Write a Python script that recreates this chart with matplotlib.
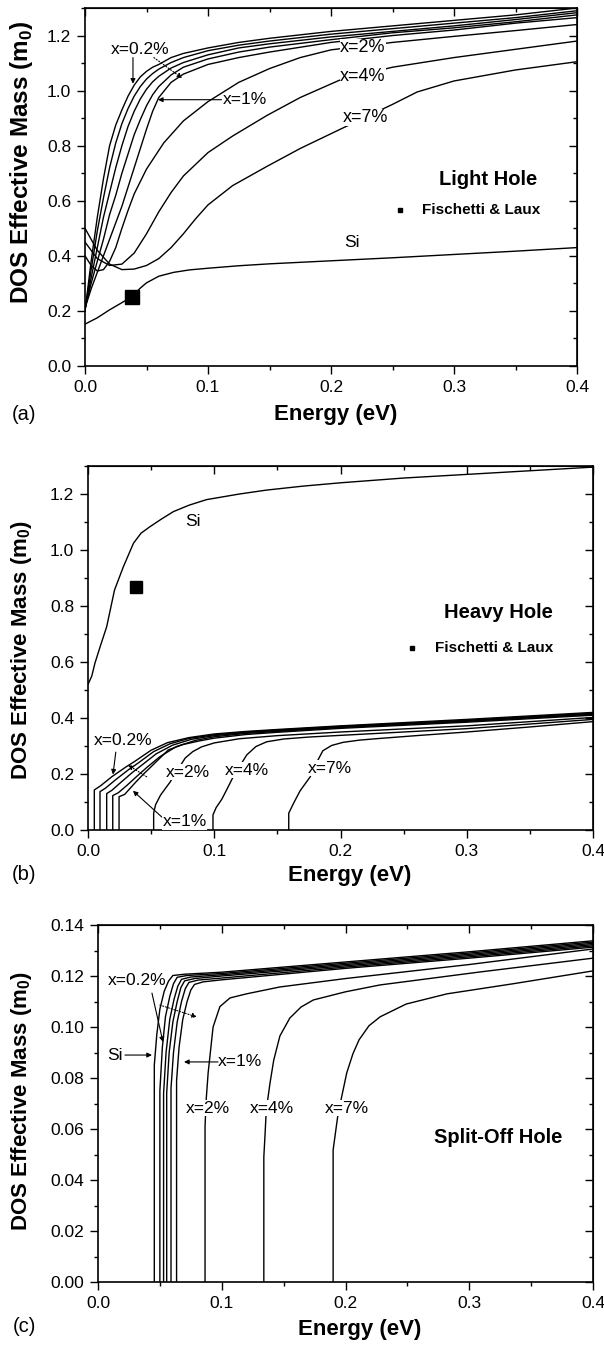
import matplotlib
matplotlib.use("Agg")
import matplotlib.pyplot as plt
from matplotlib.ticker import MultipleLocator, FormatStrFormatter

plt.rcParams['font.family'] = ['Liberation Sans', 'DejaVu Sans']

# ---------------- Panel (a) Light hole ----------------
lh_si_E = [0, 0.01, 0.02, 0.03, 0.038, 0.045, 0.05, 0.06, 0.072, 0.085, 0.1, 0.125, 0.15, 0.2,
           0.25, 0.3, 0.35, 0.4]
lh_si_m = [0.152, 0.175, 0.204, 0.23, 0.252, 0.283, 0.302, 0.326, 0.34, 0.349, 0.355, 0.364,
           0.371, 0.382, 0.393, 0.405, 0.417, 0.43]

lh_grid_E = [0, 0.005, 0.01, 0.015, 0.02, 0.025, 0.03, 0.035, 0.04, 0.045, 0.05, 0.055,
             0.06, 0.07, 0.08, 0.1, 0.125, 0.15, 0.2, 0.25, 0.3, 0.35, 0.4]
lh_x02_m = [0.20, 0.38, 0.54, 0.68, 0.80, 0.875, 0.93, 0.98, 1.02, 1.05, 1.07, 1.085,
            1.095, 1.12, 1.135, 1.155, 1.175, 1.19, 1.215, 1.235, 1.255, 1.275, 1.30]
lh_x04_m = [0.20, 0.35, 0.49, 0.61, 0.72, 0.81, 0.88, 0.935, 0.98, 1.015, 1.042, 1.062,
            1.078, 1.102, 1.12, 1.145, 1.165, 1.18, 1.205, 1.225, 1.245, 1.265, 1.29]
lh_x06_m = [0.205, 0.32, 0.43, 0.54, 0.63, 0.72, 0.80, 0.87, 0.925, 0.97, 1.005, 1.032,
            1.052, 1.082, 1.102, 1.13, 1.155, 1.17, 1.195, 1.215, 1.235, 1.258, 1.283]
lh_x08_m = [0.21, 0.30, 0.38, 0.46, 0.55, 0.62, 0.70, 0.77, 0.84, 0.895, 0.945, 0.985,
            1.015, 1.057, 1.085, 1.115, 1.14, 1.158, 1.185, 1.21, 1.228, 1.25, 1.275]
lh_x1_m = [0.21, 0.28, 0.34, 0.40, 0.46, 0.52, 0.58, 0.65, 0.72, 0.79, 0.86, 0.925,
           0.975, 1.03, 1.06, 1.095, 1.12, 1.14, 1.175, 1.20, 1.22, 1.245, 1.265]

lh_x2_E = [0, 0.005, 0.01, 0.015, 0.02, 0.025, 0.03, 0.035, 0.04, 0.05, 0.064, 0.08, 0.1,
           0.125, 0.15, 0.175, 0.2, 0.25, 0.3, 0.35, 0.4]
lh_x2_m = [0.40, 0.365, 0.345, 0.35, 0.38, 0.43, 0.50, 0.565, 0.625, 0.715, 0.81, 0.89, 0.96,
           1.03, 1.08, 1.12, 1.148, 1.175, 1.197, 1.218, 1.24]
lh_x4_E = [0, 0.01, 0.02, 0.03, 0.04, 0.05, 0.06, 0.07, 0.08, 0.1, 0.12, 0.148, 0.175,
           0.208, 0.25, 0.3, 0.35, 0.4]
lh_x4_m = [0.45, 0.39, 0.365, 0.37, 0.41, 0.48, 0.56, 0.63, 0.69, 0.775, 0.835, 0.91, 0.975,
           1.04, 1.085, 1.12, 1.15, 1.18]
lh_x7_E = [0, 0.01, 0.02, 0.03, 0.04, 0.05, 0.06, 0.07, 0.08, 0.09, 0.1, 0.12, 0.148, 0.175,
           0.21, 0.25, 0.27, 0.3, 0.35, 0.4]
lh_x7_m = [0.50, 0.42, 0.37, 0.35, 0.352, 0.365, 0.39, 0.43, 0.48, 0.535, 0.585, 0.655, 0.725,
           0.79, 0.865, 0.95, 0.995, 1.035, 1.075, 1.105]
lh_fl_E = [0.038]
lh_fl_m = [0.25]

# ---------------- Panel (b) Heavy hole ----------------
hh_si_E = [0, 0.003, 0.0055, 0.01, 0.0148, 0.021, 0.028, 0.036, 0.042, 0.049, 0.058, 0.0676,
           0.08, 0.094, 0.12, 0.1415, 0.17, 0.2, 0.25, 0.3, 0.35, 0.4]
hh_si_m = [0.52, 0.55, 0.596, 0.66, 0.726, 0.857, 0.94, 1.024, 1.06, 1.083, 1.11, 1.137,
           1.16, 1.18, 1.2, 1.214, 1.228, 1.24, 1.257, 1.27, 1.283, 1.296]
hh_x02_E = [0.005, 0.005, 0.01, 0.0188, 0.03, 0.037, 0.05, 0.063, 0.08, 0.1, 0.125, 0.15, 0.2,
            0.3, 0.4]
hh_x02_m = [0, 0.143, 0.158, 0.19, 0.225, 0.245, 0.285, 0.312, 0.33, 0.343, 0.352, 0.359, 0.372,
            0.395, 0.42]
hh_x04_E = [0.0095, 0.0095, 0.014, 0.022, 0.032, 0.04, 0.052, 0.065, 0.08, 0.1, 0.125, 0.15,
            0.2, 0.3, 0.4]
hh_x04_m = [0, 0.137, 0.15, 0.18, 0.215, 0.24, 0.28, 0.308, 0.327, 0.34, 0.35, 0.357, 0.37,
            0.392, 0.417]
hh_x06_E = [0.0148, 0.0148, 0.019, 0.026, 0.035, 0.043, 0.054, 0.067, 0.082, 0.1, 0.125, 0.15,
            0.2, 0.3, 0.4]
hh_x06_m = [0, 0.13, 0.142, 0.17, 0.205, 0.233, 0.272, 0.303, 0.324, 0.337, 0.348, 0.355,
            0.368, 0.39, 0.415]
hh_x08_E = [0.0196, 0.0196, 0.024, 0.031, 0.039, 0.047, 0.057, 0.07, 0.085, 0.1, 0.125, 0.15,
            0.2, 0.3, 0.4]
hh_x08_m = [0, 0.123, 0.133, 0.16, 0.193, 0.225, 0.262, 0.298, 0.32, 0.333, 0.345, 0.352,
            0.366, 0.388, 0.413]
hh_x1_E = [0.0246, 0.0246, 0.029, 0.037, 0.044, 0.05, 0.0636, 0.075, 0.088, 0.1, 0.125, 0.15,
           0.2, 0.3, 0.4]
hh_x1_m = [0, 0.119, 0.127, 0.167, 0.2, 0.226, 0.286, 0.305, 0.318, 0.328, 0.341, 0.349,
           0.363, 0.385, 0.41]
hh_x2_E = [0.052, 0.052, 0.0535, 0.0575, 0.065, 0.071, 0.077, 0.083, 0.09, 0.1, 0.12, 0.15,
           0.2, 0.3, 0.4]
hh_x2_m = [0, 0.06, 0.09, 0.125, 0.171, 0.215, 0.257, 0.28, 0.297, 0.311, 0.326, 0.337, 0.35,
           0.372, 0.402]
hh_x4_E = [0.099, 0.099, 0.1015, 0.106, 0.11, 0.115, 0.1205, 0.1257, 0.133, 0.1415, 0.155,
           0.175, 0.2, 0.25, 0.3, 0.4]
hh_x4_m = [0, 0.054, 0.08, 0.11, 0.145, 0.19, 0.23, 0.268, 0.298, 0.315, 0.325, 0.332, 0.338,
           0.35, 0.362, 0.395]
hh_x7_E = [0.159, 0.159, 0.163, 0.168, 0.176, 0.181, 0.186, 0.193, 0.202, 0.215, 0.231, 0.26,
           0.3, 0.35, 0.4]
hh_x7_m = [0, 0.06, 0.097, 0.14, 0.19, 0.24, 0.283, 0.302, 0.313, 0.321, 0.327, 0.337, 0.35,
           0.368, 0.387]
hh_fl_E = [0.038]
hh_fl_m = [0.868]

# ---------------- Panel (c) Split-off hole ----------------
so_si_E = [0.0455, 0.0455, 0.0475, 0.050, 0.0535, 0.057, 0.0605, 0.07, 0.1, 0.2, 0.3, 0.4]
so_si_m = [0, 0.085, 0.097, 0.107, 0.114, 0.118, 0.1202, 0.1207, 0.1215, 0.1255, 0.1295, 0.1338]
so_x02_E = [0.050, 0.050, 0.052, 0.0545, 0.058, 0.061, 0.064, 0.072, 0.1, 0.2, 0.3, 0.4]
so_x02_m = [0, 0.075, 0.092, 0.104, 0.112, 0.117, 0.1195, 0.1202, 0.121, 0.125, 0.129, 0.1333]
so_x04_E = [0.053, 0.053, 0.055, 0.058, 0.0615, 0.0645, 0.0675, 0.075, 0.1, 0.2, 0.3, 0.4]
so_x04_m = [0, 0.074, 0.09, 0.103, 0.111, 0.116, 0.1187, 0.1196, 0.1205, 0.1245, 0.1285, 0.1328]
so_x06_E = [0.0555, 0.0555, 0.0575, 0.0605, 0.064, 0.067, 0.070, 0.078, 0.1, 0.2, 0.3, 0.4]
so_x06_m = [0, 0.074, 0.09, 0.102, 0.110, 0.1155, 0.1181, 0.119, 0.12, 0.124, 0.128, 0.1323]
so_x08_E = [0.059, 0.059, 0.061, 0.064, 0.0675, 0.0705, 0.0735, 0.081, 0.1, 0.2, 0.3, 0.4]
so_x08_m = [0, 0.076, 0.09, 0.102, 0.110, 0.115, 0.1175, 0.1184, 0.1192, 0.1235, 0.1275, 0.1318]
so_x1_E = [0.0635, 0.0635, 0.0655, 0.0685, 0.072, 0.075, 0.078, 0.085, 0.1, 0.2, 0.3, 0.4]
so_x1_m = [0, 0.079, 0.092, 0.103, 0.110, 0.1145, 0.1167, 0.1177, 0.1185, 0.123, 0.127, 0.1313]
so_x2_E = [0.0865, 0.0865, 0.0875, 0.089, 0.093, 0.0985, 0.1067, 0.12, 0.147, 0.2, 0.3, 0.4]
so_x2_m = [0, 0.061, 0.072, 0.082, 0.1, 0.108, 0.1114, 0.113, 0.1157, 0.119, 0.1245, 0.1306]
so_x4_E = [0.134, 0.134, 0.135, 0.136, 0.139, 0.142, 0.147, 0.155, 0.164, 0.174, 0.2, 0.228,
           0.309, 0.4]
so_x4_m = [0, 0.049, 0.058, 0.0675, 0.078, 0.087, 0.0965, 0.1035, 0.1078, 0.1106, 0.1138,
           0.1165, 0.1216, 0.127]
so_x7_E = [0.19, 0.19, 0.194, 0.201, 0.206, 0.211, 0.219, 0.228, 0.249, 0.282, 0.336, 0.4]
so_x7_m = [0, 0.0518, 0.066, 0.082, 0.0895, 0.095, 0.1005, 0.104, 0.109, 0.113, 0.117, 0.122]

x_ticks = [0.0, 0.1, 0.2, 0.3, 0.4]

W, H = 604, 1348
fig = plt.figure(figsize=(W / 100, H / 100), dpi=100)

LW = 1.0
TICK_FS = 12.5
LAB_FS = 16
NOTE_FS = 12.5
BG = dict(facecolor='white', edgecolor='none', pad=0.3)
YLAB = 'DOS Effective Mass (m$_\\mathregular{0}$)'


def add_ax(l, r, t, b):
    return fig.add_axes([l / W, 1 - b / H, (r - l) / W, (b - t) / H])


def style(ax, ylim, ymaj, ymin, yfmt):
    ax.set_xlim(0, 0.4)
    ax.set_ylim(*ylim)
    ax.set_xticks(x_ticks)
    ax.xaxis.set_major_formatter(FormatStrFormatter('%.1f'))
    ax.xaxis.set_minor_locator(MultipleLocator(0.05))
    ax.yaxis.set_major_locator(MultipleLocator(ymaj))
    ax.yaxis.set_minor_locator(MultipleLocator(ymin))
    ax.yaxis.set_major_formatter(FormatStrFormatter(yfmt))
    ax.tick_params(which='both', direction='out', width=1.0, labelsize=TICK_FS, pad=4)
    ax.tick_params(which='major', length=6)
    ax.tick_params(which='minor', length=3)
    for s in ax.spines.values():
        s.set_linewidth(1.2)
    sx = ax.secondary_xaxis('top')
    sx.set_xticks(x_ticks)
    sx.xaxis.set_minor_locator(MultipleLocator(0.05))
    sx.tick_params(which='both', direction='in', labeltop=False, width=1.0)
    sx.tick_params(which='major', length=6)
    sx.tick_params(which='minor', length=3)
    sy = ax.secondary_yaxis('right')
    sy.yaxis.set_major_locator(MultipleLocator(ymaj))
    sy.yaxis.set_minor_locator(MultipleLocator(ymin))
    sy.tick_params(which='both', direction='in', labelright=False, width=1.0)
    sy.tick_params(which='major', length=6)
    sy.tick_params(which='minor', length=3)


def ftext(px, py, s, **kw):
    fig.text(px / W, 1 - py / H, s, **kw)


def arrow(ax, xy_from, xy_to, ls='-'):
    ax.annotate('', xy=xy_to, xytext=xy_from,
                arrowprops=dict(arrowstyle='-|>', lw=0.8, color='black',
                                mutation_scale=7, shrinkA=0, shrinkB=0, linestyle=ls))


# ---------- (a) ----------
axa = add_ax(85, 577, 8, 366)
for E, m in [(lh_si_E, lh_si_m), (lh_grid_E, lh_x02_m), (lh_grid_E, lh_x04_m),
             (lh_grid_E, lh_x06_m), (lh_grid_E, lh_x08_m), (lh_grid_E, lh_x1_m),
             (lh_x2_E, lh_x2_m), (lh_x4_E, lh_x4_m), (lh_x7_E, lh_x7_m)]:
    axa.plot(E, m, color='black', lw=LW)
axa.plot(lh_fl_E, lh_fl_m, 's', color='black', ms=9.5)
style(axa, (0, 1.3), 0.2, 0.1, '%.1f')
axa.text(0.0447, 1.149, 'x=0.2%', fontsize=NOTE_FS, ha='center', va='center')
arrow(axa, (0.039, 1.12), (0.039, 1.025))
arrow(axa, (0.056, 1.12), (0.079, 1.045), ls=':')
axa.text(0.130, 0.967, 'x=1%', fontsize=NOTE_FS, ha='center', va='center')
arrow(axa, (0.111, 0.967), (0.0593, 0.967))
axa.text(0.226, 1.156, 'x=2%', fontsize=13, ha='center', va='center', bbox=BG, zorder=5)
axa.text(0.226, 1.051, 'x=4%', fontsize=13, ha='center', va='center', bbox=BG, zorder=5)
axa.text(0.228, 0.902, 'x=7%', fontsize=13, ha='center', va='center', bbox=BG, zorder=5)
axa.text(0.217, 0.447, 'Si', fontsize=NOTE_FS, ha='center', va='center')
axa.text(0.328, 0.676, 'Light Hole', fontsize=14.5, fontweight='bold', ha='center', va='center')
axa.plot([0.256], [0.567], 's', color='black', ms=3.5)
axa.text(0.274, 0.567, 'Fischetti & Laux', fontsize=11, fontweight='bold', ha='left', va='center')
ftext(22, 162, YLAB, fontsize=17.5, fontweight='bold', rotation=90, ha='center', va='center')
ftext(336, 415, 'Energy (eV)', fontsize=LAB_FS, fontweight='bold', ha='center', va='center')
ftext(24, 415, '(a)', fontsize=14.5, ha='center', va='center')

# ---------- (b) ----------
axb = add_ax(88, 593, 466, 830)
for E, m in [(hh_si_E, hh_si_m), (hh_x02_E, hh_x02_m), (hh_x04_E, hh_x04_m),
             (hh_x06_E, hh_x06_m), (hh_x08_E, hh_x08_m), (hh_x1_E, hh_x1_m),
             (hh_x2_E, hh_x2_m), (hh_x4_E, hh_x4_m), (hh_x7_E, hh_x7_m)]:
    axb.plot(E, m, color='black', lw=LW)
axb.plot(hh_fl_E, hh_fl_m, 's', color='black', ms=9)
style(axb, (0, 1.3), 0.2, 0.1, '%.1f')
axb.text(0.083, 1.10, 'Si', fontsize=NOTE_FS, ha='center', va='center')
axb.text(0.0277, 0.321, 'x=0.2%', fontsize=NOTE_FS, ha='center', va='center')
arrow(axb, (0.022, 0.278), (0.0198, 0.198))
axb.text(0.0768, 0.029, 'x=1%', fontsize=NOTE_FS, ha='center', va='center', bbox=BG, zorder=5)
arrow(axb, (0.061, 0.036), (0.0356, 0.14))
arrow(axb, (0.0465, 0.19), (0.0317, 0.232), ls=':')
axb.text(0.079, 0.207, 'x=2%', fontsize=NOTE_FS, ha='center', va='center', bbox=BG, zorder=5)
axb.text(0.126, 0.214, 'x=4%', fontsize=NOTE_FS, ha='center', va='center', bbox=BG, zorder=5)
axb.text(0.1917, 0.221, 'x=7%', fontsize=NOTE_FS, ha='center', va='center', bbox=BG, zorder=5)
axb.text(0.325, 0.775, 'Heavy Hole', fontsize=14.5, fontweight='bold', ha='center', va='center')
axb.plot([0.257], [0.65], 's', color='black', ms=3.5)
axb.text(0.275, 0.65, 'Fischetti & Laux', fontsize=11, fontweight='bold', ha='left', va='center')
ftext(22, 650, YLAB, fontsize=LAB_FS, fontweight='bold', rotation=90, ha='center', va='center')
ftext(350, 875, 'Energy (eV)', fontsize=LAB_FS, fontweight='bold', ha='center', va='center')
ftext(24, 875, '(b)', fontsize=14.5, ha='center', va='center')

# ---------- (c) ----------
axc = add_ax(98, 593, 925, 1282)
for E, m in [(so_si_E, so_si_m), (so_x02_E, so_x02_m), (so_x04_E, so_x04_m),
             (so_x06_E, so_x06_m), (so_x08_E, so_x08_m), (so_x1_E, so_x1_m),
             (so_x2_E, so_x2_m), (so_x4_E, so_x4_m), (so_x7_E, so_x7_m)]:
    axc.plot(E, m, color='black', lw=LW)
style(axc, (0, 0.14), 0.02, 0.01, '%.2f')
axc.text(0.0315, 0.1184, 'x=0.2%', fontsize=NOTE_FS, ha='center', va='center')
arrow(axc, (0.0436, 0.1133), (0.0525, 0.0941))
arrow(axc, (0.050, 0.1086), (0.080, 0.1039), ls=':')
axc.text(0.1147, 0.0863, 'x=1%', fontsize=NOTE_FS, ha='center', va='center')
arrow(axc, (0.097, 0.0863), (0.0695, 0.0863))
axc.text(0.0137, 0.089, 'Si', fontsize=NOTE_FS, ha='center', va='center')
arrow(axc, (0.0218, 0.089), (0.0436, 0.089))
axc.text(0.0889, 0.0682, 'x=2%', fontsize=NOTE_FS, ha='center', va='center', bbox=BG, zorder=5)
axc.text(0.1406, 0.0682, 'x=4%', fontsize=NOTE_FS, ha='center', va='center', bbox=BG, zorder=5)
axc.text(0.2012, 0.0682, 'x=7%', fontsize=NOTE_FS, ha='center', va='center', bbox=BG, zorder=5)
axc.text(0.323, 0.0565, 'Split-Off Hole', fontsize=14.5, fontweight='bold', ha='center', va='center')
ftext(22, 1101, YLAB, fontsize=LAB_FS, fontweight='bold', rotation=90, ha='center', va='center')
ftext(360, 1330, 'Energy (eV)', fontsize=LAB_FS, fontweight='bold', ha='center', va='center')
ftext(24, 1327, '(c)', fontsize=14.5, ha='center', va='center')

fig.savefig('out.png', dpi=100)
